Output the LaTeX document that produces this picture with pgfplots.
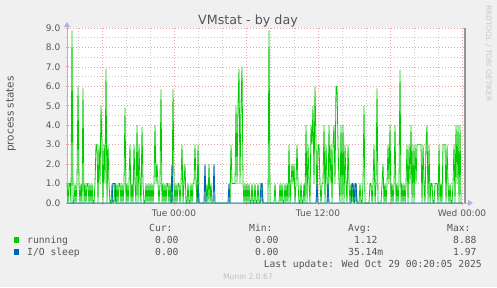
\documentclass[border=0pt]{standalone}
\usepackage{pgfplots}
\pgfplotsset{compat=1.18}
\usepackage{pgfplotstable}
\usepackage{fontspec}
\setmainfont{DejaVu Sans}
\newfontfamily\monofont{DejaVu Sans Mono}
\usetikzlibrary{arrows.meta}
\definecolor{bgcol}{RGB}{240,240,240}
\definecolor{txtcol}{RGB}{85,85,85}
\definecolor{runcol}{RGB}{0,204,0}
\definecolor{iocol}{RGB}{0,102,179}
\definecolor{majgrid}{RGB}{235,160,160}
\definecolor{mingrid}{RGB}{200,200,200}
\definecolor{axiscol}{RGB}{170,180,230}
\definecolor{edgecol}{RGB}{150,150,150}
\definecolor{faint}{RGB}{200,200,200}

\pgfplotstableread[row sep=\\]{
x y\\
-107 1\\ -106 0\\ -105 1\\ -104 1\\ -103 0\\ -102 8.88\\ -101 0\\ -100 0\\ -99 1\\ -98 0\\
-97 1\\ -96 6\\ -95 1\\ -94 0\\ -93 1\\ -92 0\\ -91 5.9\\ -90 0\\ -89 1\\ -88 0\\
-87 1\\ -86 1\\ -85 0\\ -84 1\\ -83 0\\ -82 1\\ -81 0\\ -80 0\\ -79 1\\ -78 3\\
-77 3\\ -76 0\\ -75 3\\ -74 1\\ -73 5\\ -72 3\\ -71 0\\ -70 3\\ -69 1\\ -68 6.9\\
-67 0\\ -66 3\\ -65 1\\ -64 0\\ -63 0\\ -62 1\\ -61 0\\ -60 0\\ -59 1\\ -58 0\\
-57 1\\ -56 0\\ -55 1\\ -54 1\\ -53 0\\ -52 1\\ -51 0\\ -50 1\\ -49 4.9\\ -48 0\\
-47 1\\ -46 0\\ -45 1\\ -44 3\\ -43 0\\ -42 1\\ -41 0\\ -40 3\\ -39 1\\ -38 0\\
-37 4\\ -36 0\\ -35 3\\ -34 1\\ -33 0\\ -32 3.9\\ -31 1\\ -30 0\\ -29 0\\ -28 1\\
-27 0\\ -26 1\\ -25 0\\ -24 1\\ -23 0\\ -22 1\\ -21 0\\ -20 1\\ -19 4\\ -18 1\\
-17 2\\ -16 1\\ -15 0\\ -14 1\\ -13 5.85\\ -12 0\\ -11 1\\ -10 0\\ -9 1\\ -8 0\\
-7 1\\ -6 1\\ -5 0\\ -4 1\\ -3 0\\ -2 0\\ -1 5.85\\ 0 1\\ 1 0\\ 2 1\\
3 0\\ 4 1\\ 5 1\\ 6 0\\ 7 1\\ 8 3\\ 9 0\\ 10 1\\ 11 2\\ 12 0\\
13 0\\ 14 1\\ 15 0\\ 16 0\\ 17 1\\ 18 0\\ 19 1\\ 20 1\\ 21 3\\ 22 1\\
23 0\\ 24 3\\ 25 0\\ 32 0\\ 33 1\\ 34 0\\ 35 2\\ 36 0\\ 37 1\\ 38 0\\
56 0\\ 57 3\\ 58 1\\ 59 1\\ 60 1\\ 61 1\\ 62 5\\ 63 1\\ 64 5\\ 65 6.9\\
66 1\\ 67 5\\ 68 7\\ 69 1\\ 70 0\\ 71 1\\ 72 0\\ 73 1\\ 74 0\\ 75 1\\
76 0\\ 77 0\\ 78 1\\ 79 0\\ 80 0\\ 81 1\\ 82 0\\ 83 0\\ 84 1\\ 85 0\\
87 0\\ 88 1\\ 89 0\\ 94 0\\ 95 8.88\\ 96 0\\ 100 0\\ 101 1\\ 102 0\\ 105 0\\
106 1\\ 107 0\\ 108 1\\ 109 0\\ 110 0\\ 111 1\\ 112 0\\ 113 1\\ 114 0\\ 115 3\\
116 0\\ 117 1\\ 118 2\\ 119 1\\ 120 2\\ 121 0\\ 122 1\\ 123 3\\ 124 1\\ 125 0\\
126 0\\ 127 1\\ 128 0\\ 129 0\\ 130 1\\ 131 0\\ 132 4\\ 133 0\\ 134 3\\ 135 1\\
136 0\\ 137 4\\ 138 3\\ 139 5\\ 140 1\\ 141 6\\ 142 3\\ 143 0\\ 144 3\\ 145 3\\
146 1\\ 147 0\\ 148 1\\ 149 1\\ 150 4\\ 151 0\\ 152 3\\ 153 1\\ 154 0\\ 155 4\\
156 1\\ 157 3\\ 158 0\\ 159 3\\ 160 4\\ 161 1\\ 162 6\\ 163 6\\ 164 3\\ 165 1\\
166 0\\ 167 4\\ 168 0\\ 169 4\\ 170 0\\ 171 3\\ 172 1\\ 173 0\\ 174 3\\ 175 1\\
176 0\\ 177 1\\ 178 0\\ 179 1\\ 180 0\\ 181 0\\ 182 1\\ 183 0\\ 185 0\\ 186 1\\
187 0\\ 188 0\\ 189 1\\ 190 5\\ 191 0\\ 195 0\\ 196 1\\ 197 1\\ 198 0\\ 199 1\\
200 3\\ 201 0\\ 202 1\\ 203 5.9\\ 204 0\\ 207 0\\ 208 1\\ 209 2\\ 210 0\\ 211 1\\
212 0\\ 213 1\\ 214 3\\ 215 1\\ 216 4\\ 217 0\\ 218 1\\ 219 0\\ 220 1\\ 221 4\\
222 0\\ 223 1\\ 224 0\\ 225 1\\ 226 6.85\\ 227 0\\ 228 1\\ 229 0\\ 230 1\\ 231 0\\
232 1\\ 233 3\\ 234 0\\ 235 3\\ 236 1\\ 237 4\\ 238 0\\ 239 3\\ 240 0\\ 241 3\\
242 1\\ 243 3\\ 244 3\\ 245 3\\ 246 3\\ 247 3\\ 248 0\\ 249 3\\ 250 1\\ 251 0\\
252 3\\ 253 4\\ 254 0\\ 255 3\\ 256 0\\ 257 1\\ 258 1\\ 259 0\\ 260 0\\ 261 1\\
262 1\\ 263 1\\ 264 0\\ 265 3\\ 266 0\\ 267 1\\ 268 0\\ 269 3\\ 270 3\\ 271 3\\
272 0\\ 273 3\\ 274 1\\ 275 0\\ 276 1\\ 277 0\\ 278 0\\ 279 1\\ 280 3\\ 281 0\\
282 4\\ 283 1\\ 284 4\\ 285 0\\ 286 4\\ 287 0\\ 288 0\\
}\running

\pgfplotstableread[row sep=\\]{
x y\\
-107 0\\ -62 0\\ -61 1\\ -60 1\\ -59 1\\ -58 0\\ -3 0\\ -2 1.97\\ -1 0\\
23 0\\ 24 1\\ 25 0\\ 30 0\\ 31 2\\ 32 0\\ 39 0\\ 40 2\\ 41 0\\
54 0\\ 55 1\\ 56 0\\ 86 0\\ 87 1\\ 88 1\\ 89 0\\ 142 0\\ 143 1\\ 144 0\\
153 0\\ 154 1\\ 155 0\\ 177 0\\ 178 1\\ 179 1\\ 180 0\\ 181 1\\ 182 1\\ 183 0\\
288 0\\
}\iosleep

\begin{document}
\begin{tikzpicture}[x=1bp,y=1bp]
\fill[bgcol] (0,0) rectangle (497,287);
\useasboundingbox (0,0) rectangle (497,287);
\begin{axis}[
  at={(67bp,84bp)}, anchor=south west,
  scale only axis, width=398bp, height=175bp,
  xmin=-107, xmax=291, ymin=0, ymax=9,
  clip=false,
  axis background/.style={fill=white},
  axis x line*=bottom, axis y line*=left,
  axis line style={draw=axiscol, line width=0.8bp},
  x axis line style={-{Triangle[length=5bp,width=6bp]}, shorten >=-8bp},
  y axis line style={-{Triangle[length=5bp,width=6bp]}, shorten >=-6bp},
  xtick={-72,0,72,144,216,288},
  xticklabels={,Tue 00:00,,Tue 12:00,,Wed 00:00},
  minor xtick={-96,-48,-24,24,48,96,120,168,192,240,264},
  ytick={0,1,...,9},
  minor ytick={0.5,1.5,...,8.5},
  grid=both,
  major grid style={draw=majgrid, line width=0.6bp, dash pattern=on 1bp off 2bp},
  minor grid style={draw=mingrid, line width=0.6bp, dash pattern=on 1bp off 2bp},
  tick align=center,
  major tick length=3bp, minor tick length=2bp,
  major tick style={draw=majgrid, line width=0.8bp},
  minor tick style={draw=mingrid, line width=0.6bp},
  /pgf/number format/assume math mode=true,
  yticklabel={\pgfmathprintnumber[fixed,fixed zerofill,precision=1]{\tick}},
  tick label style={font=\fontsize{9bp}{10bp}\selectfont, text=txtcol},
  yticklabel style={inner sep=0pt, xshift=-5bp},
  xticklabel style={inner sep=0pt, yshift=-5bp},
]
\addplot[runcol, line width=0.8bp, no markers, sharp plot] table[x=x,y=y] {\running};
\addplot[iocol, line width=0.9bp, no markers, sharp plot] table[x=x,y=y] {\iosleep};
\draw[edgecol, line width=1.2bp] (rel axis cs:1,0) -- (rel axis cs:1,1);
\end{axis}
% title and labels
\node[anchor=base, text=txtcol, font=\fontsize{12.7bp}{14bp}\selectfont] at (248,263) {VMstat - by day};
\node[rotate=90, text=txtcol, font=\fontsize{10.5bp}{12bp}\selectfont] at (11,173) {process states};
\node[rotate=-90, text=faint, font=\fontsize{7.5bp}{9bp}\selectfont] at (488.5,233.5) {RRDTOOL / TOBI OETIKER};
% legend
\begin{scope}[every node/.style={anchor=base west, inner sep=0pt, text=txtcol, font=\monofont\fontsize{9.7bp}{11bp}\selectfont}]
\node at (149,55.5) {Cur:};
\node at (249,55.5) {Min:};
\node at (348,55.5) {Avg:};
\node at (447,55.5) {Max:};
\fill[runcol] (14,44.3) rectangle (19.3,49.7);
\node at (27,43.6) {running};
\node at (155,43.6) {0.00};
\node at (255,43.6) {0.00};
\node at (354,43.6) {1.12};
\node at (453,43.6) {8.88};
\fill[iocol] (14,32.3) rectangle (19.3,37.7);
\node at (27,31.4) {I/O sleep};
\node at (155,31.4) {0.00};
\node at (255,31.4) {0.00};
\node at (348,31.4) {35.14m};
\node at (453,31.4) {1.97};
\node[anchor=base east] at (482,19.8) {Last update: Wed Oct 29 00:20:05 2025};
\end{scope}
\node[anchor=base, text={rgb,255:red,190;green,190;blue,190}, font=\fontsize{7.6bp}{9bp}\selectfont] at (248,8) {Munin 2.0.67};
\end{tikzpicture}
\end{document}
